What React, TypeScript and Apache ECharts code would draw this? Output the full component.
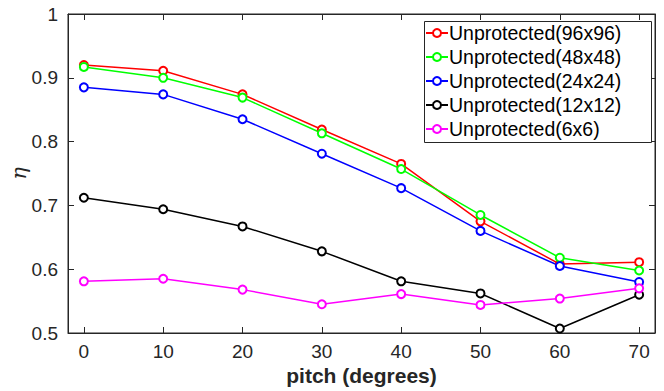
import React, { useEffect, useRef } from "react";
import * as echarts from "echarts";

const pitch = [0, 10, 20, 30, 40, 50, 60, 70];
const seriesNames = [
  "Unprotected(96x96)",
  "Unprotected(48x48)",
  "Unprotected(24x24)",
  "Unprotected(12x12)",
  "Unprotected(6x6)",
];
const u96 = [0.92, 0.911, 0.874, 0.819, 0.765, 0.675, 0.608, 0.611];
const u48 = [0.917, 0.9, 0.869, 0.813, 0.757, 0.685, 0.618, 0.598];
const u24 = [0.885, 0.874, 0.835, 0.781, 0.727, 0.66, 0.605, 0.58];
const u12 = [0.712, 0.694, 0.667, 0.628, 0.581, 0.562, 0.507, 0.56];
const u6 = [0.581, 0.585, 0.568, 0.545, 0.561, 0.544, 0.554, 0.57];
const colors = ["#ff0000", "#00ff00", "#0000ff", "#000000", "#ff00ff"];
const xTicks = [0, 10, 20, 30, 40, 50, 60, 70];

const AX = "#262626";
const FONT = "'Liberation Sans', Arial, sans-serif";

export default function App() {
  const ref = useRef<HTMLDivElement>(null);
  useEffect(() => {
    if (!ref.current) return;
    const chart = echarts.init(ref.current, null, { renderer: "svg" });
    const all = [u96, u48, u24, u12, u6];
    const xBase = {
      type: "value",
      show: true,
      min: -2,
      max: 72,
      splitLine: { show: false },
      axisLine: { show: true, onZero: false, lineStyle: { color: AX, width: 1 } },
      axisTick: { show: true, inside: true, length: 6, customValues: xTicks, lineStyle: { color: AX, width: 1 } },
    };
    const yBase = {
      type: "value",
      show: true,
      min: 0.5,
      max: 1,
      interval: 0.1,
      splitLine: { show: false },
      axisLine: { show: true, onZero: false, lineStyle: { color: AX, width: 1 } },
      axisTick: { show: true, inside: true, length: 6, lineStyle: { color: AX, width: 1 } },
    };
    chart.setOption({
      animation: false,
      backgroundColor: "#ffffff",
      grid: {
        left: 68,
        right: 9,
        top: 14,
        bottom: 58,
        containLabel: false,
        outerBoundsMode: "none",
        show: true,
        borderColor: AX,
        borderWidth: 1,
        backgroundColor: "transparent",
      },
      xAxis: [
        {
          ...xBase,
          position: "bottom",
          axisLabel: {
            show: true,
            customValues: xTicks,
            color: AX,
            fontSize: 19,
            fontFamily: FONT,
            margin: 9,
          },
          name: "pitch (degrees)",
          nameLocation: "middle",
          nameGap: 32,
          nameMoveOverlap: false,
          nameTextStyle: { color: AX, fontSize: 21, fontWeight: "bold", fontFamily: FONT },
        },
        { ...xBase, position: "top", axisLabel: { show: false } },
      ],
      yAxis: [
        {
          ...yBase,
          position: "left",
          axisLabel: {
            show: true,
            color: AX,
            fontSize: 19,
            fontFamily: FONT,
            margin: 10,
            formatter: (v: number) => (Math.abs(v - 1) < 1e-9 ? "1" : v.toFixed(1)),
          },
          name: "η",
          nameLocation: "middle",
          nameRotate: 90,
          nameGap: 39,
          nameMoveOverlap: false,
          nameTextStyle: { color: AX, fontSize: 21, fontStyle: "italic", fontFamily: "'DejaVu Serif', serif" },
        },
        { ...yBase, position: "right", axisLabel: { show: false } },
      ],
      legend: {
        orient: "vertical",
        left: 425,
        top: 23,
        padding: [0, 0, 0, 0],
        itemWidth: 22,
        itemHeight: 10,
        itemGap: 4,
        textStyle: { fontSize: 19.5, fontFamily: FONT, color: "#000", lineHeight: 20, padding: [0, 0, 0, -4] },
        data: seriesNames,
        z: 10,
      },
      graphic: [
        {
          type: "rect",
          left: 424,
          top: 21,
          shape: { width: 227, height: 121 },
          style: { fill: "#ffffff", stroke: AX, lineWidth: 1 },
          z: 5,
        },
      ],
      series: all.map((arr, i) => ({
        name: seriesNames[i],
        type: "line",
        xAxisIndex: 0,
        yAxisIndex: 0,
        data: pitch.map((p, j) => [p, arr[j]]),
        symbol: "emptyCircle",
        symbolSize: 8,
        showSymbol: true,
        color: colors[i],
        lineStyle: { color: colors[i], width: 1.5 },
        itemStyle: { color: colors[i], borderWidth: 1.3 },
      })),
    });
    return () => chart.dispose();
  }, []);
  return <div ref={ref} style={{ width: 664, height: 391, position: "absolute", left: 0, top: 0 }} />;
}
